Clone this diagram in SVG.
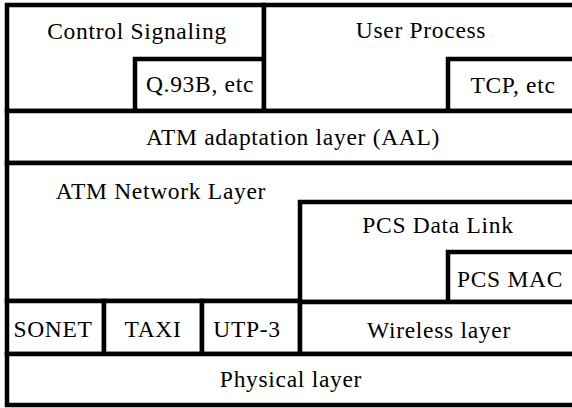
<svg xmlns="http://www.w3.org/2000/svg" width="572" height="408" viewBox="0 0 572 408">
<style>
.b{fill:#fff;stroke:#000;stroke-width:4.5}
text{font-family:"Liberation Serif","Times New Roman",serif;font-size:23.5px;letter-spacing:0.7px;text-anchor:middle;fill:#000}
</style>
<rect width="572" height="408" fill="#fff"/>
<g id="control-signaling"><rect class="b" x="7" y="5" width="257" height="106"/><text x="137" y="39">Control Signaling</text></g>
<g id="q93b"><rect class="b" x="135" y="59" width="129" height="52"/><text x="200" y="92">Q.93B, etc</text></g>
<g id="user-process"><rect class="b" x="264" y="5" width="320" height="106"/><text x="421" y="38">User Process</text></g>
<g id="tcp"><rect class="b" x="448" y="59" width="136" height="52"/><text x="513" y="93">TCP, etc</text></g>
<g id="aal"><rect class="b" x="7" y="111" width="577" height="52"/><text x="293" y="145">ATM adaptation layer (AAL)</text></g>
<g id="atm-network"><rect class="b" x="7" y="163" width="577" height="138"/><text x="161" y="199">ATM Network Layer</text></g>
<g id="pcs-data-link"><rect class="b" x="300" y="202" width="284" height="100"/><text x="438" y="233">PCS Data Link</text></g>
<g id="pcs-mac"><rect class="b" x="448" y="252" width="136" height="50"/><text x="510" y="287">PCS MAC</text></g>
<g id="sonet"><rect class="b" x="7" y="301" width="97" height="53"/><text x="53" y="337">SONET</text></g>
<g id="taxi"><rect class="b" x="104" y="301" width="98" height="53"/><text x="153" y="337">TAXI</text></g>
<g id="utp3"><rect class="b" x="202" y="301" width="98" height="53"/><text x="247" y="337">UTP-3</text></g>
<g id="wireless"><rect class="b" x="300" y="302" width="284" height="52"/><text x="439" y="338">Wireless layer</text></g>
<g id="physical"><rect class="b" x="7" y="354" width="577" height="51"/><text x="291" y="387">Physical layer</text></g>
<g id="connectors"></g>
</svg>
